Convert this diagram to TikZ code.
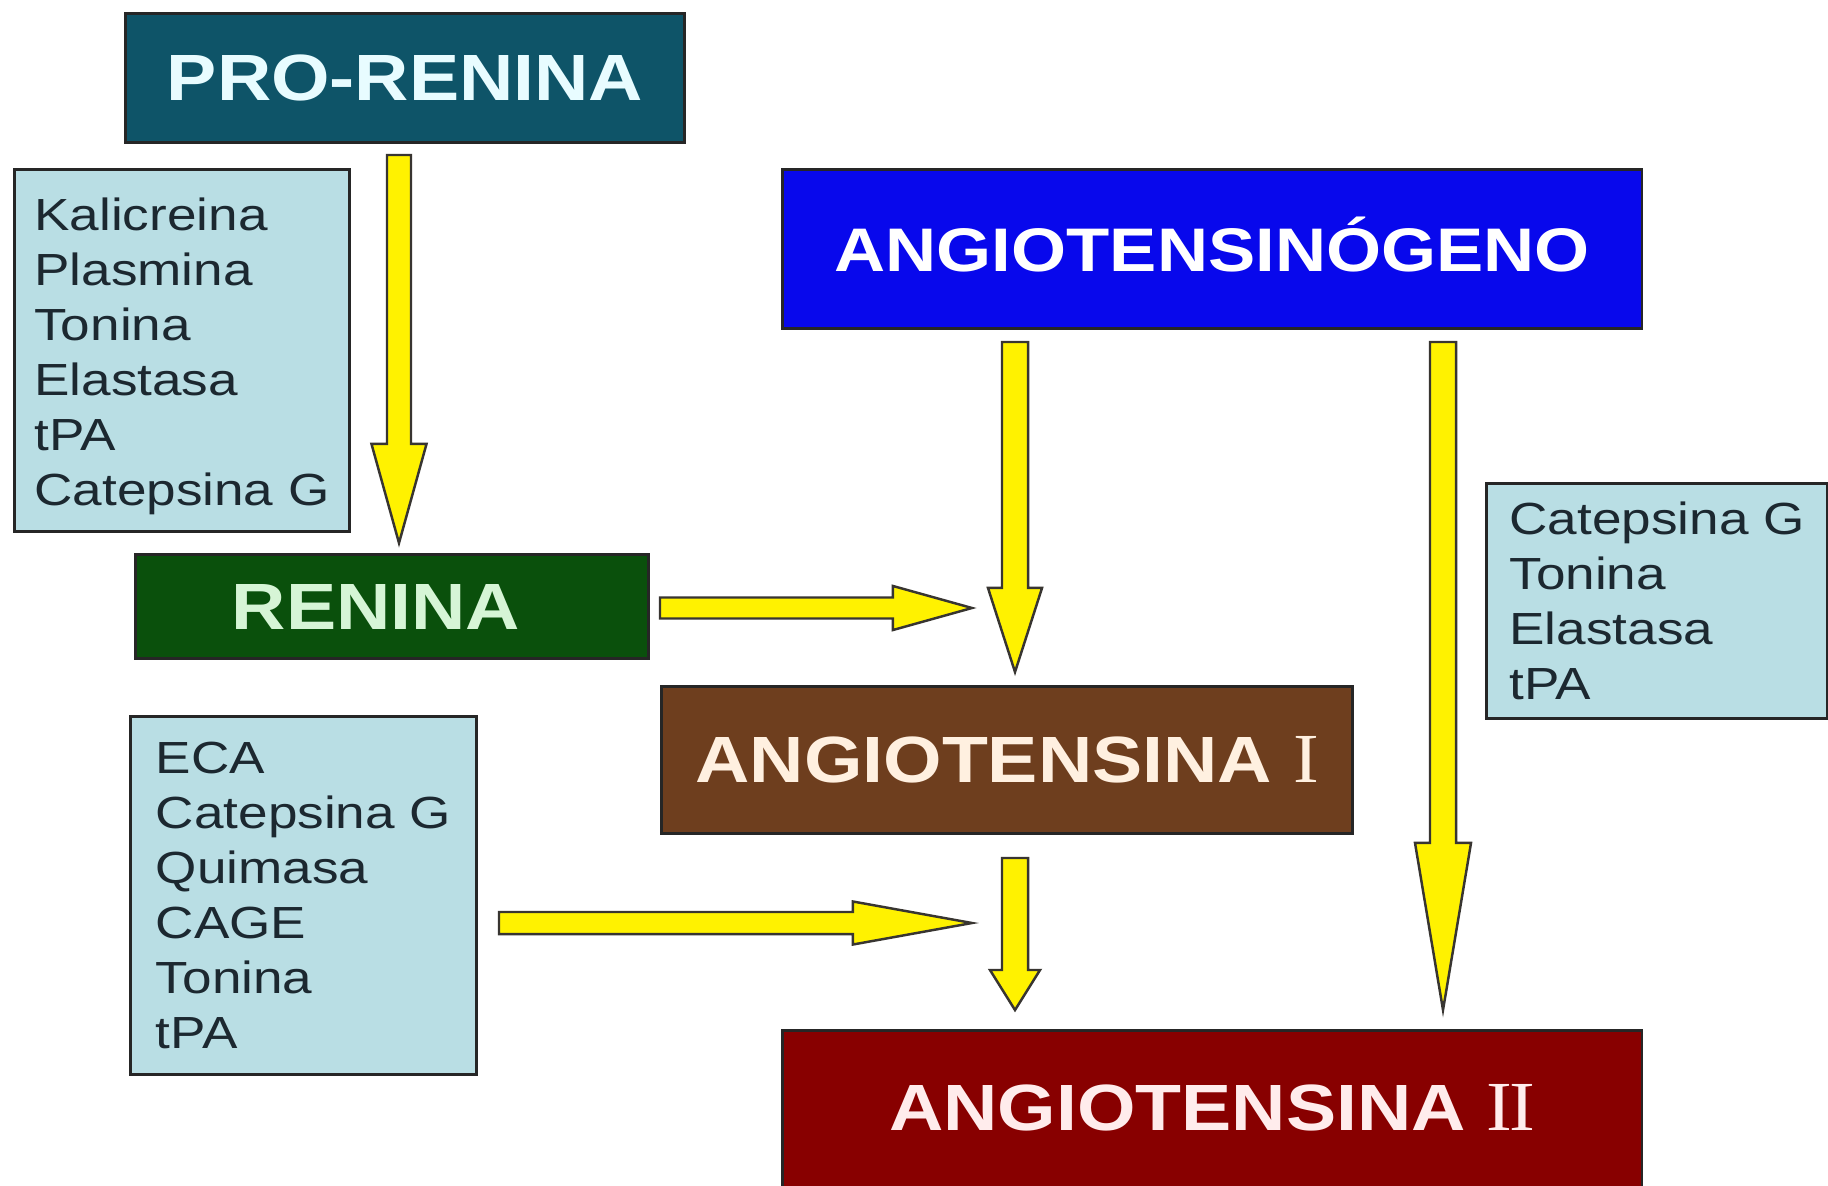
\documentclass[tikz,border=0pt]{standalone}
\usepackage{fontspec}
\usepackage{tikz}
\usetikzlibrary{calc}
\newfontfamily\titlefont{Liberation Sans}[FakeStretch=1.15]
\newfontfamily\listfont{Liberation Sans}[FakeStretch=1.18]
\newfontfamily\numfont{Liberation Serif}[FakeStretch=1.1]
\definecolor{proteal}{RGB}{14,84,104}
\definecolor{protext}{RGB}{232,252,255}
\definecolor{angblue}{RGB}{8,8,236}
\definecolor{rengreen}{RGB}{10,80,12}
\definecolor{rentext}{RGB}{214,245,214}
\definecolor{angbrown}{RGB}{110,62,30}
\definecolor{brtext}{RGB}{255,240,224}
\definecolor{angred}{RGB}{136,0,0}
\definecolor{redtext}{RGB}{255,236,236}
\definecolor{listblue}{RGB}{185,222,228}
\definecolor{listtext}{RGB}{28,40,48}
\tikzset{
    %Define style for title boxes
    titlebox/.style={
           rectangle,
           draw=black!85, line width=0.8pt,
           inner sep=0pt,
           anchor=north west,
           text height=0.46cm,
           text depth=0pt,
           font=\titlefont\bfseries\fontsize{18.6}{20}\selectfont,
           text centered},
    %Define style for enzyme lists
    listbox/.style={
           rectangle,
           draw=black!85, line width=0.8pt,
           inner sep=0pt,
           anchor=north west,
           fill=listblue,
           text=listtext,
           align=left,
           font=\listfont\fontsize{12.8}{15.6}\selectfont},
    % Define arrow style
    blockarrow/.style={
           fill=yellow,
           draw=black!90!yellow,
           line width=0.7pt,
           line join=miter}
}
% roman numerals in serif
\newcommand{\romnum}[1]{{\numfont\mdseries\fontsize{20}{20}\selectfont #1}}
% tail, tip, half shaft, half head, head length
\newcommand{\yarrow}[5]{%
  \coordinate (yh) at ($(#2)!#5!(#1)$);
  \draw[blockarrow] ($(#1)!#3!90:(#2)$) -- ($(yh)!#3!90:(#2)$) -- ($(yh)!#4!90:(#2)$) -- (#2)
    -- ($(yh)!#4!-90:(#2)$) -- ($(yh)!#3!-90:(#2)$) -- ($(#1)!#3!-90:(#2)$) -- cycle;
}
\begin{document}
\begin{tikzpicture}[x=0.01cm,y=-0.01cm]
\useasboundingbox[fill=white] (0,0) rectangle (1828,1185);
% main boxes
\node[titlebox, fill=proteal, text=protext, minimum width=5.59cm, minimum height=1.29cm] (pro) at (124,12) {PRO-RENINA};
\node[titlebox, fill=angblue, text=white, minimum width=8.59cm, minimum height=1.59cm,
      font=\titlefont\bfseries\fontsize{17.5}{20}\selectfont] (agen) at (781,168) {ANGIOTENSINÓGENO};
\node[titlebox, fill=rengreen, text=rentext, minimum width=5.13cm, minimum height=1.04cm] (ren) at (134,553) {RENINA\rule{0.32cm}{0pt}};
\node[titlebox, fill=angbrown, text=brtext, minimum width=6.91cm, minimum height=1.47cm] (ang1) at (660,685) {ANGIOTENSINA \romnum{I}};
\node[titlebox, fill=angred, text=redtext, minimum width=8.59cm, minimum height=2.0cm, text depth=0.46cm] (ang2) at (781,1029) {ANGIOTENSINA \romnum{I\kern-0.04em I}};
% enzyme lists
\node[listbox, minimum width=3.35cm, minimum height=3.62cm] (kal) at (13,168) {\rule{0pt}{0.44cm}Kalicreina\\Plasmina\\Tonina\\Elastasa\\tPA\\Catepsina G};
\node[listbox, minimum width=3.41cm, minimum height=2.35cm] (cat) at (1485,482) {Catepsina G\\Tonina\\Elastasa\\tPA};
\node[listbox, minimum width=3.46cm, minimum height=3.58cm] (eca) at (129,715) {ECA\\Catepsina G\\Quimasa\\CAGE\\Tonina\\tPA};
% arrow ends
\coordinate (pro-out) at (399,155);
\coordinate (ren-in) at (399,543);
\coordinate (ren-out) at (660,608);
\coordinate (ren-tip) at (972,608);
\coordinate (agen-l) at (1015,342);
\coordinate (ang1-in) at (1015,672);
\coordinate (agen-r) at (1443,342);
\coordinate (ang2-r) at (1443,1010);
\coordinate (ang1-out) at (1015,858);
\coordinate (ang2-in) at (1015,1010);
\coordinate (eca-out) at (499,923);
\coordinate (eca-tip) at (972,923);
% arrows
\yarrow{pro-out}{ren-in}{0.12cm}{0.275cm}{0.99cm}
\yarrow{ren-out}{ren-tip}{0.105cm}{0.22cm}{0.79cm}
\yarrow{agen-l}{ang1-in}{0.13cm}{0.27cm}{0.84cm}
\yarrow{agen-r}{ang2-r}{0.13cm}{0.28cm}{1.67cm}
\yarrow{ang1-out}{ang2-in}{0.13cm}{0.25cm}{0.40cm}
\yarrow{eca-out}{eca-tip}{0.11cm}{0.215cm}{1.19cm}
\end{tikzpicture}
\end{document}
